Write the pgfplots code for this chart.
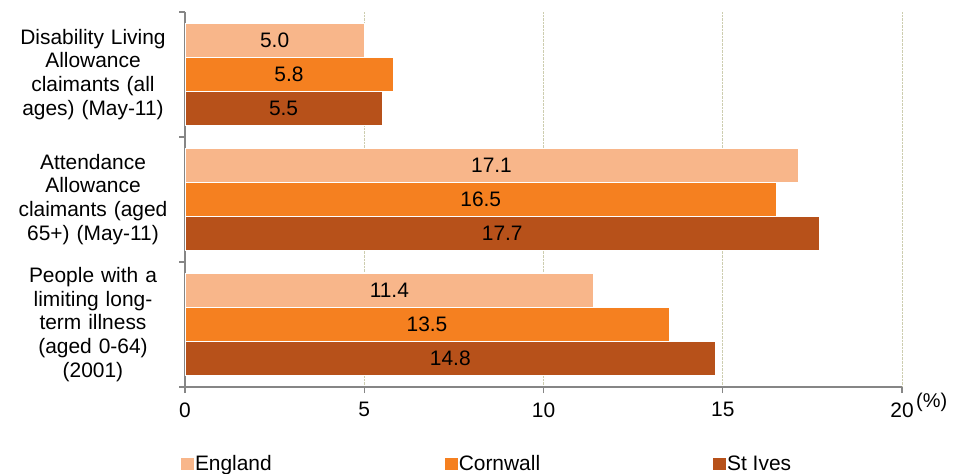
\documentclass[border=0pt]{standalone}
\usepackage{pgfplots}
\pgfplotsset{compat=1.18}
\usepackage{fontspec}
\setmainfont{Liberation Sans}
\definecolor{eng}{RGB}{248,182,138}
\definecolor{cor}{RGB}{245,128,32}
\definecolor{stiv}{RGB}{183,81,26}
\definecolor{axgray}{RGB}{134,134,134}
\definecolor{gridc}{RGB}{205,205,175}
\begin{document}
\begin{tikzpicture}
\path[use as bounding box] (0,0) rectangle (955bp,474bp);
\begin{axis}[
  at={(185bp,87bp)}, anchor=south west,
  scale only axis, width=717bp, height=375bp,
  xbar, bar width=0.272,
  xmin=0, xmax=20, ymin=-0.5, ymax=2.5, y dir=reverse,
  axis x line*=bottom, axis y line*=left,
  axis line style={axgray, line width=1.3bp},
  xtick={0,5,10,15,20},
  xmajorgrids, grid style={gridc, densely dotted, line width=1bp},
  tick align=outside, major tick length=6bp,
  x tick style={axgray, line width=1.3bp},
  ytick={0,1,2},
  y tick style={draw=none},
  yticklabels={{Disability Living\\Allowance\\claimants (all\\ages) (May-11)},
               {Attendance\\Allowance\\claimants (aged\\65+) (May-11)},
               {People with a\\limiting long-\\term illness\\(aged 0-64)\\(2001)}},
  yticklabel style={align=center, text width=165bp, xshift=0bp, font=\fontsize{21}{24}\selectfont},
  extra y ticks={-0.5,0.5,1.5,2.5}, extra y tick labels={},
  extra y tick style={y tick style={draw=axgray, line width=1.3bp}},
  xticklabel style={font=\fontsize{21}{24}\selectfont, yshift=-6bp},
  /pgf/number format/assume math mode=true,
  visualization depends on={x \as \xv},
  nodes near coords={\pgfmathprintnumber[fixed, fixed zerofill, precision=1]{\pgfplotspointmeta}},
  nodes near coords style={anchor=center, font=\fontsize{21}{24}\selectfont, text=black,
     shift={(axis direction cs:-\xv/2,0)}},
  legend style={at={(0,0)}, anchor=west, xshift=-4bp, yshift=-77bp, draw=none, fill=none,
     inner sep=0pt, outer sep=0pt, nodes={inner sep=1bp},
     font=\fontsize{21}{24}\selectfont, legend columns=3,
     /tikz/every even column/.append style={column sep=172bp}},
  legend image code/.code={\fill[#1,draw=none] (0bp,-6bp) rectangle (13bp,6bp);},
]
\addplot[fill=eng, draw=white, line width=0.8bp, bar shift=-0.272] coordinates {(5.0,0) (17.1,1) (11.4,2)};
\addplot[fill=cor, draw=white, line width=0.8bp, bar shift=0] coordinates {(5.8,0) (16.5,1) (13.5,2)};
\addplot[fill=stiv, draw=white, line width=0.8bp, bar shift=0.272] coordinates {(5.5,0) (17.7,1) (14.8,2)};
\legend{England, Cornwall, St Ives}
\end{axis}
\node[anchor=base west, inner sep=0pt, font=\fontsize{20}{22}\selectfont] at (916bp,66bp) {(\%)};
\end{tikzpicture}
\end{document}
